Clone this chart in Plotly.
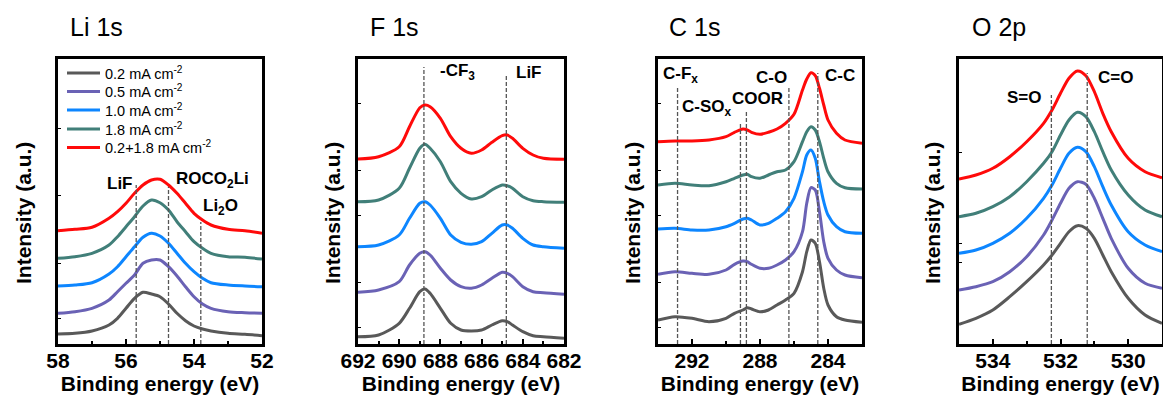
import plotly.graph_objects as go

# ---------------- data ----------------
series_names = ["0.2 mA cm<sup>-2</sup>", "0.5 mA cm<sup>-2</sup>", "1.0 mA cm<sup>-2</sup>",
                "1.8 mA cm<sup>-2</sup>", "0.2+1.8 mA cm<sup>-2</sup>"]
series_colors = ["#595959", "#6a62b5", "#0d86ff", "#417f79", "#ff0a0a"]

# Li 1s (stacked intensities, a.u.)
li_energy = [58, 57.5, 57, 56.5, 56.25, 56, 55.75, 55.5, 55.25, 55, 54.75, 54.5, 54.25, 54, 53.75, 53.5, 53, 52.5, 52]
li_02 = [11.0, 11.7, 14.0, 20.0, 26.7, 36.7, 46.7, 52.7, 51.0, 48.3, 41.0, 31.7, 24.3, 19.0, 16.0, 14.0, 11.7, 10.7, 9.3]
li_05 = [31.7, 33.3, 36.7, 45.0, 53.3, 61.7, 70.0, 81.7, 85.0, 85.0, 78.3, 69.0, 58.3, 48.3, 41.0, 36.7, 33.3, 32.3, 31.7]
li_10 = [59.0, 60.0, 62.3, 71.0, 78.3, 88.3, 98.3, 107.7, 111.7, 109.0, 101.7, 91.7, 81.7, 73.3, 66.7, 62.3, 60.0, 59.0, 58.3]
li_18 = [86.7, 88.3, 91.7, 100.0, 108.3, 118.3, 128.3, 139.0, 145.0, 142.3, 135.0, 123.3, 113.3, 103.3, 96.7, 91.7, 88.3, 87.7, 86.0]
li_mix = [114.3, 115.7, 117.7, 126.7, 133.3, 141.7, 151.7, 160.0, 165.0, 165.7, 160.0, 151.7, 141.7, 131.7, 125.0, 120.0, 115.7, 114.3, 111.7]

# F 1s
f_energy = [692, 691, 690, 689.5, 689, 688.75, 688.5, 688, 687.5, 687, 686.5, 686, 685.5, 685, 684.75, 684.5, 684, 683.5, 683, 682]
f_02 = [7.3, 9.0, 20.7, 35.7, 52.3, 55.0, 50.7, 35.7, 20.7, 14.0, 13.0, 14.0, 19.0, 23.3, 22.3, 19.0, 12.3, 8.3, 7.3, 5.7]
f_05 = [51.7, 54.0, 62.3, 79.0, 90.7, 92.3, 89.0, 75.7, 64.0, 57.3, 55.7, 59.0, 65.7, 71.7, 70.7, 67.3, 57.3, 52.3, 51.3, 49.7]
f_10 = [97.3, 99.0, 109.0, 125.7, 140.7, 142.3, 139.0, 125.7, 109.0, 101.7, 99.7, 102.3, 110.7, 119.0, 119.0, 115.7, 105.7, 99.0, 97.3, 95.7]
f_18 = [142.3, 144.0, 155.7, 175.7, 195.7, 199.7, 195.7, 182.3, 162.3, 150.7, 145.0, 147.3, 154.0, 159.0, 158.3, 155.7, 147.3, 143.3, 142.3, 141.7]
f_mix = [185.0, 187.3, 197.3, 217.3, 236.3, 239.0, 237.3, 225.7, 207.3, 195.7, 190.7, 194.0, 201.7, 208.3, 209.0, 205.7, 195.7, 189.0, 185.7, 184.7]

# C 1s
c_energy = [294, 293, 292, 291, 290, 289.5, 289, 288.75, 288.5, 288, 287.5, 287, 286.5, 286, 285.5, 285.25, 285, 284.75, 284.5, 284.25, 284, 283.5, 283, 282]
c_02 = [24.0, 27.3, 25.7, 22.3, 25.7, 30.7, 34.0, 36.3, 35.0, 32.3, 34.0, 39.0, 44.0, 50.7, 72.3, 92.3, 104.0, 100.7, 82.3, 55.7, 39.0, 27.3, 24.0, 21.7]
c_05 = [69.7, 72.3, 70.7, 69.7, 74.0, 79.7, 83.0, 82.3, 79.7, 75.7, 75.7, 79.0, 84.0, 92.3, 112.3, 140.7, 156.3, 154.0, 132.3, 102.3, 85.7, 74.0, 69.0, 66.3]
c_10 = [115.0, 115.7, 114.0, 114.0, 117.3, 120.7, 125.0, 125.7, 124.0, 119.0, 120.7, 125.7, 132.3, 145.7, 172.3, 189.0, 194.0, 185.7, 162.3, 142.3, 129.0, 117.3, 112.3, 110.7]
c_18 = [159.0, 160.7, 159.0, 158.3, 162.3, 165.7, 169.0, 169.7, 167.3, 165.7, 169.0, 172.3, 174.0, 182.3, 202.3, 212.3, 217.3, 214.0, 202.3, 185.7, 172.3, 160.7, 156.3, 155.0]
c_mix = [202.3, 203.0, 203.0, 204.0, 207.3, 211.7, 215.0, 214.0, 211.7, 209.7, 211.7, 215.0, 220.7, 229.7, 254.0, 265.0, 271.3, 268.3, 255.7, 239.0, 224.0, 210.7, 204.0, 200.7]

# O 2p
o_energy = [535, 534.5, 534, 533.5, 533, 532.5, 532.25, 532, 531.75, 531.5, 531.25, 531, 530.75, 530.5, 530, 529.5, 529]
o_02 = [19.7, 25.7, 34.0, 47.3, 62.3, 79.0, 89.0, 100.7, 112.3, 118.3, 115.7, 105.7, 89.0, 72.3, 45.7, 29.0, 20.7]
o_05 = [54.0, 57.3, 62.3, 72.3, 87.3, 109.0, 124.0, 140.7, 155.7, 162.3, 159.7, 145.7, 125.7, 105.7, 75.7, 60.7, 55.7]
o_10 = [90.7, 94.0, 100.7, 110.7, 125.7, 145.7, 159.0, 175.7, 190.7, 196.7, 192.3, 177.3, 157.3, 139.0, 112.3, 99.0, 92.3]
o_18 = [127.3, 130.7, 137.3, 147.3, 162.3, 180.7, 192.3, 209.0, 224.0, 231.7, 227.3, 212.3, 192.3, 174.0, 149.0, 134.0, 127.3]
o_mix = [165.0, 169.0, 175.7, 187.3, 202.3, 220.7, 234.0, 250.7, 265.7, 273.0, 268.3, 252.3, 230.7, 212.3, 185.7, 172.3, 166.3]

# reference peak positions (eV)
li_peaks = [55.7, 54.75, 53.8]
f_peaks = [688.8, 684.8]
c_peaks = [292.85, 289.15, 288.8, 286.3, 284.6]
o_peaks = [532.27, 531.21]

panel_titles = ["Li 1s", "F 1s", "C 1s", "O 2p"]

# ---------------- layout geometry ----------------
W, H = 1163, 399
FONT = "Liberation Sans, Arial, sans-serif"

panels = [
    dict(energy=li_energy, ys=[li_02, li_05, li_10, li_18, li_mix], xr=[58, 52], yr=[1, 286],
         px=(58, 262), dtick=2, tick0=52, minor=1,
         peaks=li_peaks, peak_tops=[160, 158, 123],
         labels=[("LiF", 56.18, 162), ("ROCO<sub>2</sub>Li", 53.47, 165), ("Li<sub>2</sub>O", 53.21, 138)],
         yticks=[217, 150, 82, 27], title_x=68, ytitle_x=23),
    dict(energy=f_energy, ys=[f_02, f_05, f_10, f_18, f_mix], xr=[692, 682], yr=[0, 285],
         px=(358, 564), dtick=2, tick0=682, minor=1,
         peaks=f_peaks, peak_tops=[277, 269],
         labels=[("-CF<sub>3</sub>", 687.17, 272), ("LiF", 683.7, 272)],
         yticks=[241, 174, 129, 62, 17], title_x=368, ytitle_x=332),
    dict(energy=c_energy, ys=[c_02, c_05, c_10, c_18, c_mix], xr=[294, 282], yr=[0, 285],
         px=(658, 862), dtick=4, tick0=284, minor=2,
         peaks=c_peaks, peak_tops=[257, 222, 234, 257, 271],
         labels=[("C-F<sub>x</sub>", 292.7, 269), ("C-SO<sub>x</sub>", 291.1, 236), ("COOR", 288.15, 246),
                 ("C-O", 287.3, 267), ("C-C", 283.3, 269)],
         yticks=[241, 174, 129, 62, 17], title_x=667, ytitle_x=632),
    dict(energy=o_energy, ys=[o_02, o_05, o_10, o_18, o_mix], xr=[535, 529], yr=[0, 285],
         px=(959, 1162), dtick=2, tick0=530, minor=1,
         peaks=o_peaks, peak_tops=[249, 271],
         labels=[("S=O", 533.06, 247), ("C=O", 530.37, 267)],
         yticks=[192, 101, 82], title_x=970, ytitle_x=932),
]

TOP, BOTTOM = 59, 344
ydom = [1 - BOTTOM / H, 1 - TOP / H]

# one legend box per series, stacked inside the Li 1s frame
legend_rows_y = [72, 90.5, 109, 128, 146.5]
legend_ids = ["legend", "legend2", "legend3", "legend4", "legend5"]

fig = go.Figure()
shapes, annotations = [], []

for i, p in enumerate(panels):
    k = "" if i == 0 else str(i + 1)
    xa, ya = "x" + k, "y" + k
    for j, (name, col) in enumerate(zip(series_names, series_colors)):
        fig.add_trace(go.Scatter(
            x=p["energy"], y=p["ys"][j], mode="lines", name=name,
            line=dict(color=col, width=3, shape="spline", smoothing=0.8),
            xaxis=xa, yaxis=ya, showlegend=(i == 0), legend=legend_ids[j],
        ))
    common = dict(showline=True, linecolor="black", linewidth=2.6, mirror=True,
                  showgrid=False, zeroline=False, automargin=False)
    fig.update_layout(**{
        "xaxis" + k: dict(common, domain=[p["px"][0] / W, p["px"][1] / W], range=p["xr"],
                          anchor=ya, tickmode="linear", tick0=p["tick0"], dtick=p["dtick"],
                          ticks="inside", ticklen=5, tickwidth=2, tickcolor="black",
                          ticklabelstandoff=-4,
                          minor=dict(ticks="inside", ticklen=3, tickwidth=1.5, dtick=p["minor"],
                                     tick0=p["tick0"], tickcolor="black"),
                          tickfont=dict(family=FONT, size=21, color="black", weight="bold"),
                          title=dict(text="Binding energy (eV)", standoff=3,
                                     font=dict(family=FONT, size=21, color="black", weight="bold"))),
        "yaxis" + k: dict(common, domain=ydom, range=p["yr"], anchor=xa,
                          tickmode="array", tickvals=p["yticks"], showticklabels=False,
                          ticks="inside", ticklen=3, tickwidth=1.2, tickcolor="black"),
    })
    # dashed reference lines
    for e, top in zip(p["peaks"], p["peak_tops"]):
        shapes.append(dict(type="line", xref=xa, yref=ya, x0=e, x1=e, y0=p["yr"][0], y1=top,
                           line=dict(color="#555555", width=1.3, dash="4px,2px")))
    for txt, ex, ey in p["labels"]:
        annotations.append(dict(text=txt, x=ex, y=ey, xref=xa, yref=ya, showarrow=False,
                                font=dict(family=FONT, size=17, color="black", weight="bold")))
    # panel title
    annotations.append(dict(text=panel_titles[i], x=p["title_x"] / W, y=1 - 27 / H, xref="paper",
                            yref="paper", xanchor="left", yanchor="middle", showarrow=False,
                            font=dict(family=FONT, size=25, color="black")))
    # y axis title
    annotations.append(dict(text="Intensity (a.u.)", x=p["ytitle_x"] / W, y=1 - 213 / H,
                            xref="paper", yref="paper", textangle=-90, showarrow=False,
                            xanchor="center", yanchor="middle",
                            font=dict(family=FONT, size=21, color="black", weight="bold")))

legend_style = dict(xanchor="left", yanchor="middle", bgcolor="rgba(0,0,0,0)",
                    font=dict(family=FONT, size=14.5, color="black"), itemwidth=33,
                    borderwidth=0)
legends = {lid: dict(legend_style, x=62 / W, y=1 - (ry + 1) / H)
           for lid, ry in zip(legend_ids, legend_rows_y)}

fig.update_layout(
    width=W, height=H, margin=dict(l=0, r=0, t=0, b=0, autoexpand=False),
    paper_bgcolor="white", plot_bgcolor="white",
    shapes=shapes, annotations=annotations, **legends,
)

fig.write_html("out.html")
